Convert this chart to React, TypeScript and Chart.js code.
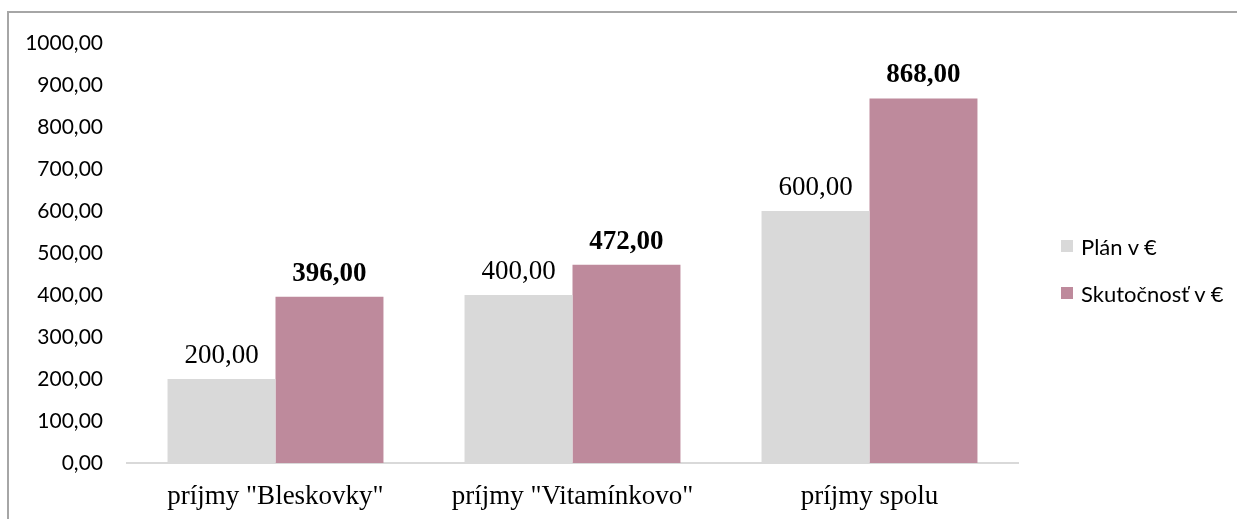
import React, { useEffect, useRef } from "react";
import { Chart, registerables } from "chart.js";

Chart.register(...registerables);

const categories = ['príjmy "Bleskovky"', 'príjmy "Vitamínkovo"', "príjmy spolu"];
const planValues = [200, 400, 600];
const actualValues = [396, 472, 868];
const seriesNames = ["Plán v €", "Skutočnosť v €"];
const seriesColors = ["#D9D9D9", "#BE8A9C"];
const labelFonts = ["normal 27px 'Liberation Serif', serif", "bold 27px 'Liberation Serif', serif"];
const yMin = 0;
const yMax = 1000;
const yStep = 100;

const fmt = (v: number) => v.toFixed(2).replace(".", ",");

const dataLabelPlugin = {
  id: "dataLabels",
  afterDatasetsDraw(chart: any) {
    const ctx = chart.ctx;
    chart.data.datasets.forEach((ds: any, di: number) => {
      const meta = chart.getDatasetMeta(di);
      meta.data.forEach((bar: any, i: number) => {
        ctx.save();
        ctx.font = labelFonts[di];
        ctx.fillStyle = "#000";
        ctx.textAlign = "center";
        ctx.textBaseline = "alphabetic";
        ctx.fillText(fmt(ds.data[i]), bar.x, bar.y - 16);
        ctx.restore();
      });
    });
  },
};

export default function App() {
  const ref = useRef<HTMLCanvasElement | null>(null);
  useEffect(() => {
    document.body.style.overflow = "hidden";
    document.documentElement.style.overflow = "hidden";
    if (!ref.current) return;
    const chart = new Chart(ref.current, {
      type: "bar",
      data: {
        labels: categories,
        datasets: [
          { label: seriesNames[0], data: planValues, backgroundColor: seriesColors[0] },
          { label: seriesNames[1], data: actualValues, backgroundColor: seriesColors[1] },
        ],
      },
      options: {
        responsive: false,
        animation: false,
        devicePixelRatio: 1,
        layout: { padding: { left: 0, top: 30, right: 215, bottom: 0 } },
        datasets: { bar: { categoryPercentage: 0.727, barPercentage: 1 } },
        plugins: { legend: { display: false }, tooltip: { enabled: false } },
        scales: {
          x: {
            grid: { display: false, drawTicks: false },
            border: { display: true, color: "#D9D9D9", width: 2 },
            ticks: {
              padding: 18,
              color: "#000",
              font: { family: "'Liberation Serif', serif", size: 27 },
            },
            afterFit: (s: any) => {
              s.height = 56;
            },
          },
          y: {
            min: yMin,
            max: yMax,
            grid: { display: false, drawTicks: false },
            border: { display: false },
            ticks: {
              stepSize: yStep,
              padding: 24,
              color: "#000",
              font: { family: "Lato, sans-serif", size: 21, lineHeight: 0.4 },
              callback: (v: any) => fmt(Number(v)),
            },
            afterFit: (s: any) => {
              s.width = 118;
            },
          },
        },
      },
      plugins: [dataLabelPlugin],
    });
    return () => chart.destroy();
  }, []);

  return (
    <div
      style={{
        position: "fixed",
        left: 7,
        top: 11,
        width: 1240,
        height: 520,
        borderTop: "2px solid #A6A6A6",
        borderLeft: "2px solid #A6A6A6",
        boxSizing: "border-box",
        background: "#fff",
        overflow: "hidden",
      }}
    >
      <canvas ref={ref} width={1224} height={506} style={{ display: "block" }} />
      {seriesNames.map((name, i) => (
        <div
          key={name}
          style={{
            position: "absolute",
            left: 1052,
            top: 227 + i * 47,
            display: "flex",
            alignItems: "center",
            height: 12,
            fontFamily: "Lato, sans-serif",
            fontSize: 22,
            color: "#000",
            whiteSpace: "nowrap",
          }}
        >
          <span style={{ width: 12, height: 12, background: seriesColors[i], display: "inline-block", marginRight: 8 }} />
          <span>{name}</span>
        </div>
      ))}
    </div>
  );
}
